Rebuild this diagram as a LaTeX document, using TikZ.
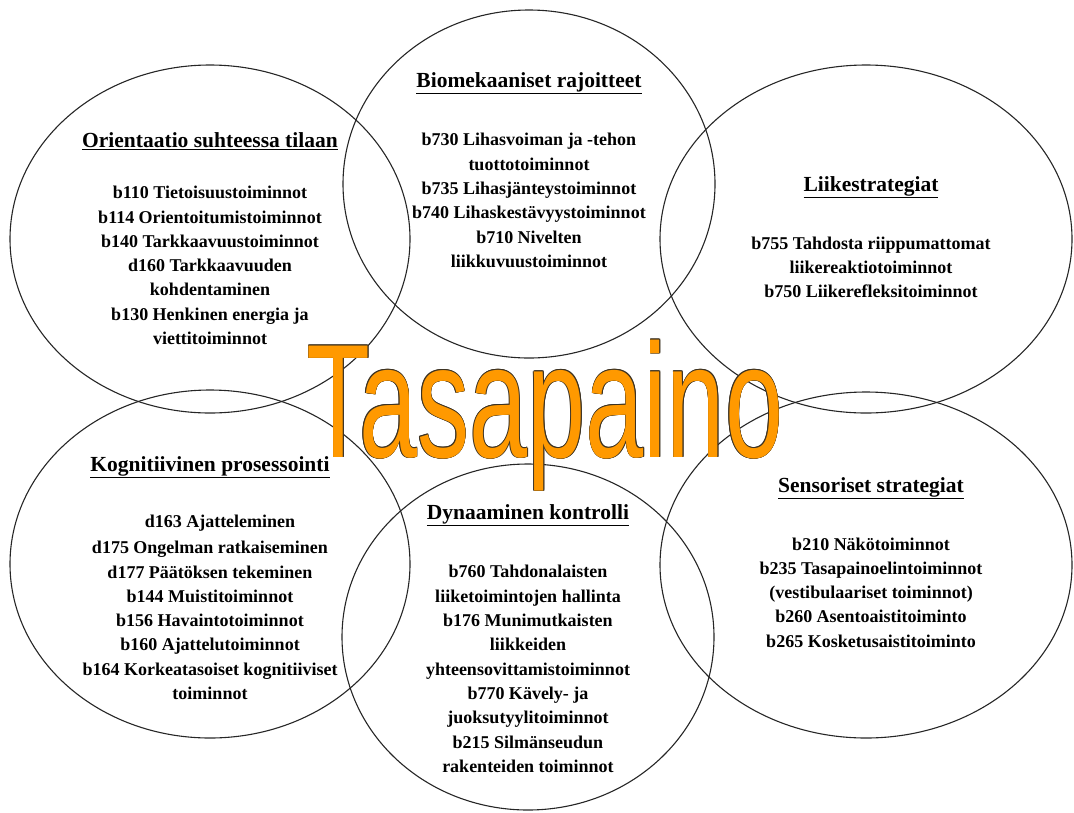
\documentclass[tikz,border=0pt]{standalone}
\usepackage{graphicx}
\usepackage{fontspec}
\setmainfont{Liberation Serif}
\newfontfamily\tasafont{Liberation Sans}
\usetikzlibrary{shapes.geometric}
\definecolor{tasaorange}{HTML}{FF9900}
\definecolor{tasaedge}{HTML}{3C3222}
\begin{document}
\begin{tikzpicture}[x=1pt,y=-1pt,
  ring/.style={ellipse, draw=black!85, line width=1.1pt, inner sep=0pt},
  head/.style={font=\fontsize{21.5}{26}\selectfont\bfseries, inner sep=0pt},
  items/.style={font=\fontsize{18}{24.3}\selectfont\bfseries, align=center, inner sep=0pt},
  word/.style={font=\fontsize{162}{162}\selectfont\tasafont, inner sep=0pt, anchor=base}]
\useasboundingbox (0,0) rectangle (1074,812);
% ellipses
\node[ring, minimum width=400pt, minimum height=348pt] (e1) at (210,239) {};
\node[ring, minimum width=372pt, minimum height=348pt] (e2) at (529,184) {};
\node[ring, minimum width=412pt, minimum height=348pt] (e3) at (866,239) {};
\node[ring, minimum width=400pt, minimum height=348pt] (e4) at (210,564) {};
\node[ring, minimum width=372pt, minimum height=346pt] (e5) at (528,637) {};
\node[ring, minimum width=412pt, minimum height=346pt] (e6) at (866,565) {};
% headings
\node[head] (h1) at (210,141) {\underline{Orientaatio suhteessa tilaan}};
\node[head] (h2) at (529,83) {\underline{Biomekaaniset rajoitteet}};
\node[head] (h3) at (871,187) {\underline{Liikestrategiat}};
\node[head] (h4) at (210,467) {\underline{Kognitiivinen prosessointi}};
\node[head] (h5) at (528,515) {\underline{Dynaaminen kontrolli}};
\node[head] (h6) at (871,488) {\underline{Sensoriset strategiat}};
% items
\node[items] (l1) at (210,265.5) {b110 Tietoisuustoiminnot\\b114 Orientoitumistoiminnot\\b140 Tarkkaavuustoiminnot\\d160 Tarkkaavuuden\\kohdentaminen\\b130 Henkinen energia ja\\viettitoiminnot};
\node[items] (l2) at (529,200.5) {b730 Lihasvoiman ja -tehon\\tuottotoiminnot\\b735 Lihasjänteystoiminnot\\b740 Lihaskestävyystoiminnot\\b710 Nivelten\\liikkuvuustoiminnot};
\node[items] (l3) at (871,267.5) {b755 Tahdosta riippumattomat\\liikereaktiotoiminnot\\b750 Liikerefleksitoiminnot};
\node[items] (l4a) at (220,523) {d163 Ajatteleminen};
\node[items] (l4) at (210,620.5) {d175 Ongelman ratkaiseminen\\d177 Päätöksen tekeminen\\b144 Muistitoiminnot\\b156 Havaintotoiminnot\\b160 Ajattelutoiminnot\\b164 Korkeatasoiset kognitiiviset\\toiminnot};
\node[items] (l5) at (528,669) {b760 Tahdonalaisten\\liiketoimintojen hallinta\\b176 Munimutkaisten\\liikkeiden\\yhteensovittamistoiminnot\\b770 Kävely- ja\\juoksutyylitoiminnot\\b215 Silmänseudun\\rakenteiden toiminnot};
\node[items] (l6) at (871,592.5) {b210 Näkötoiminnot\\b235 Tasapainoelintoiminnot\\(vestibulaariset toiminnot)\\b260 Asentoaistitoiminto\\b265 Kosketusaistitoiminto};
% central word with thin outline
\foreach \dx/\dy [count=\k] in {-0.6/0,0.6/0,0/-0.6,0/0.6,-0.45/-0.45,0.45/-0.45,-0.45/0.45,0.45/0.45}
  \node[word, text=tasaedge] (tasashade\k) at (545+\dx,457+\dy) {\scalebox{0.645}[1]{Tasapaino}};
\node[word, text=tasaorange] (tasa) at (545,457) {\scalebox{0.645}[1]{Tasapaino}};
\end{tikzpicture}
\end{document}
